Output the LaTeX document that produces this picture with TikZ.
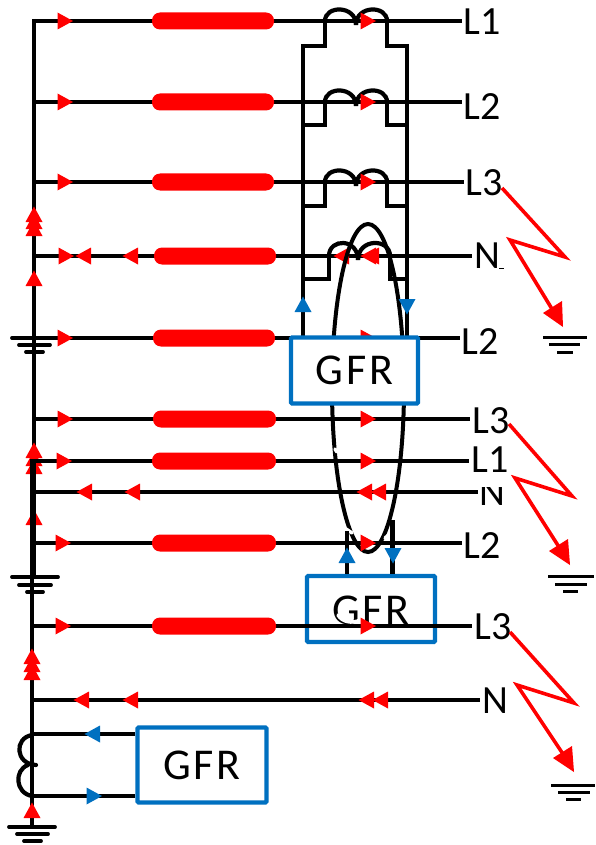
\documentclass[tikz,border=0pt]{standalone}
\usepackage{fontspec}
\setmainfont{Carlito}
\newfontfamily\gfrfont[LetterSpace=6]{Carlito}
\definecolor{gfrblue}{HTML}{0070C0}
\tikzset{
  wire/.style={draw=black,line width=4.2pt,line cap=butt},
  gfrbox/.style={draw=gfrblue,line width=4.2pt,fill=white,rounded corners=1pt,inner sep=0pt},
  lbl/.style={inner sep=0pt,font=\fontsize{40}{40}\selectfont},
  gfrtext/.style={font=\gfrfont\fontsize{44}{44}\selectfont},
  bolt/.style={draw=red,line width=3.6pt,line join=miter},
  gnd/.style={draw=black,line width=3.8pt,line cap=round},
  gndthin/.style={draw=black,line width=3pt},
  halo/.style={draw=white,line width=3.5pt,line cap=round},
}
\newcommand{\triR}[3][red]{\fill[#1] (#2-.5,#3-8.5) -- (#2+15,#3) -- (#2-.5,#3+8.5) -- cycle;}
\newcommand{\triL}[3][red]{\fill[#1] (#2+15,#3-8.5) -- (#2-.5,#3) -- (#2+15,#3+8.5) -- cycle;}
\newcommand{\triU}[3][red]{\fill[#1] (#2-8.5,#3+15) -- (#2,#3-.5) -- (#2+8.5,#3+15) -- cycle;}
\newcommand{\triD}[3][red]{\fill[#1] (#2-8.5,#3) -- (#2,#3+15.5) -- (#2+8.5,#3) -- cycle;}
\newcommand{\redpill}[3]{\fill[red,rounded corners=8pt] (#1,#3-8.5) rectangle (#2,#3+8.5);}
\newcommand{\coilrow}[6]{% xl xm xr y top stub
  \draw[wire] (#1,#4) .. controls (#1,#5-4) and (#2,#5-4) .. (#2,#4+4);
  \draw[wire] (#2,#4+4) .. controls (#2,#5-4) and (#3,#5-4) .. (#3,#4);
  \draw[wire,line join=miter] (303,#6) -- (#1,#6) -- (#1,#4);
  \draw[wire,line join=miter] (407,#6) -- (#3,#6) -- (#3,#4);
}
\begin{document}
\begin{tikzpicture}[x=1pt,y=-1pt]
\useasboundingbox[fill=white] (0,0) rectangle (595,845);
% named ends of the phase rows
\coordinate (a1) at (32,21);   \coordinate (z1) at (462,21);
\coordinate (a2) at (34,102);  \coordinate (z2) at (462,102);
\coordinate (a3) at (34,182);  \coordinate (z3) at (464,182);
\coordinate (a4) at (32,256);  \coordinate (z4) at (472,256);
\coordinate (a5) at (12,338);  \coordinate (z5) at (460,338);
\coordinate (a6) at (34,419);  \coordinate (z6) at (470,419);
\coordinate (a7) at (30,461);  \coordinate (z7) at (469,461);
\coordinate (a8) at (34,492);  \coordinate (z8) at (478,492);
\coordinate (a9) at (34,543);  \coordinate (z9) at (462,543);
\coordinate (a10) at (32,626); \coordinate (z10) at (472,626);
\coordinate (a11) at (32,700); \coordinate (z11) at (480,700);
% labels
\node[lbl] (l1) at (482,22) {L1};
\node[lbl] (l2) at (482,107) {L2};
\node[lbl] (l3) at (484,183) {L3};
\node[lbl] (n1) at (487,256) {N};
\node[lbl] (l4) at (480,342) {L2};
\node[lbl] (l5) at (491,421) {L3};
\node[lbl] (n2) at (492,493) {N};
\fill[white] (470,474) rectangle (515,486.5);
\node[lbl] (l6) at (490,460) {L1};
\node[lbl] (l7) at (482,546) {L2};
\node[lbl] (l8) at (493,627) {L3};
\node[lbl] (n3) at (495,701) {N};
\draw[black,line width=1pt] (499,268.5) -- (504,268.5);
% bus
\draw[wire] (34,19) -- (34,460);
\draw[wire] (32,575) -- (32,827);
\triU{34}{221}\triU{34}{214}\triU{34}{207}
\triU{34}{271}
\triU{34}{459}\triU{34}{451}\triU{34}{443}
\triU{34}{510}
\draw[wire,line width=6.5pt] (33,459) -- (33,577);
\triU{32}{665}\triU{32}{657}\triU{32}{649}
\triU{32}{803}
% rows
\foreach \n in {1,2,3,5,6,7,8,9,10,11} {\draw[wire] (a\n) -- (z\n);}
\draw[wire,line width=4.6pt] (a4) -- (z4);
% current transformer windings
\draw[wire] (303,44) -- (303,338);
\draw[wire] (407,44) -- (407,338);
\coilrow{325}{356}{387}{21}{9}{46}
\coilrow{325}{356}{387}{102}{90}{125}
\coilrow{325}{356}{387}{182}{170}{206}
\coilrow{329}{358}{390}{256}{242}{279}
% pills
\redpill{152}{274}{21}
\redpill{152}{274}{102}
\redpill{152}{274}{182}
\redpill{154}{276}{256}
\redpill{153}{275}{338}
\redpill{153}{276}{419}
\redpill{152}{276}{461}
\redpill{152}{276}{543}
\redpill{152}{276}{626}
% row arrows
\triR{58}{21}\triR{58}{102}\triR{58}{182}
\triR{59}{256}\triL{76}{256}\triL{123}{256}
\triR{58}{338}
\triR{58}{419}
\triR{57}{461}
\triL{77}{492}\triL{125}{492}
\triR{56}{543}
\triR{56}{626}
\triL{74}{700}\triL{123}{700}
\triR{361}{21}\triR{361}{102}\triR{361}{182}
\triL{334}{256}\triL{361}{256}\triL{364}{256}
% zero-sequence loop
\draw[black,line width=4pt] (368,388) ellipse [x radius=36,y radius=164];
\draw[halo] (335,449) -- (337,452);
\draw[halo] (346,529) -- (352,533);
\draw[halo] (385,538) -- (391,533);
\draw[wire] (300,543) -- (z9);
\triR{361}{338}
\triR{361}{543}
\triR{361}{419}
\triR{361}{461}
\triL{357}{492}\triL{371}{492}
\triL{359}{700}\triL{373}{700}
% first GFR
\node[gfrbox,minimum width=127pt,minimum height=66pt] (g1) at (354.5,370.5) {};
\node[gfrtext] at (g1) {GFR};
\triU[gfrblue]{303}{297}
\triD[gfrblue]{407}{299}
% second GFR
\node[gfrbox,minimum width=128pt,minimum height=66pt] (g2) at (371,609) {};
\node[gfrtext] at (371,610) {GFR};
\draw[wire] ([xshift=-24pt]g2.north) -- (347,531);
\draw[wire] ([xshift=21.5pt]g2.north) -- (392.5,520);
\triU[gfrblue]{347}{548}
\triD[gfrblue]{393}{548}
\draw[halo] (338,615) .. controls (342,622) and (352,624) .. (360,620);
\draw[wire] (290,626) -- (z10);
\triR{361}{626}
% third GFR and its coil
\node[gfrbox,minimum width=129pt,minimum height=75pt] (g3) at (202,765) {};
\node[gfrtext] at (g3) {GFR};
\draw[wire] (g3.west |- 0,734) -- (32,734);
\draw[wire] (g3.west |- 0,796) -- (32,796);
\triL[gfrblue]{85}{734}
\triR[gfrblue]{87}{796}
\draw[wire,line cap=round] (32,735) .. controls (14,738) and (15,764) .. (36,765);
\draw[wire,line cap=round] (28,765) .. controls (14,770) and (15,793) .. (32,796);
% grounds on the bus
\draw[gnd] (12,338) -- (50,338);
\draw[gnd] (19,345) -- (50,345);
\draw[gnd] (26,352) -- (43,352);
\draw[gnd] (12,577) -- (58,577);
\draw[gnd] (19,585) -- (51,585);
\draw[gnd] (27,592) -- (43,592);
\draw[gnd] (9,827) -- (55,827);
\draw[gnd] (17,834) -- (48,834);
\draw[gnd] (24,841) -- (41,841);
% faults
\draw[bolt] (502,188) -- (565,257) -- (510,240) -- (552,309);
\fill[red] (563,327) -- (543,313) -- (562,301) -- cycle;
\draw[gndthin] (543,337) -- (587,337);
\draw[gndthin] (549,344) -- (580,344);
\draw[gndthin] (557,352) -- (573,352);
\draw[bolt] (509,424) -- (572,496) -- (515,478) -- (559,547);
\fill[red] (570,565) -- (549,551) -- (568,539) -- cycle;
\draw[gndthin] (548,576) -- (594,576);
\draw[gndthin] (555,584) -- (587,584);
\draw[gndthin] (563,591) -- (578,591);
\draw[bolt] (510,632) -- (574,703) -- (517,685) -- (563,754);
\fill[red] (574,772) -- (553,758) -- (572,746) -- cycle;
\draw[gndthin] (551,785) -- (595,785);
\draw[gndthin] (558,792) -- (590,792);
\draw[gndthin] (566,799) -- (581,799);
\end{tikzpicture}
\end{document}
